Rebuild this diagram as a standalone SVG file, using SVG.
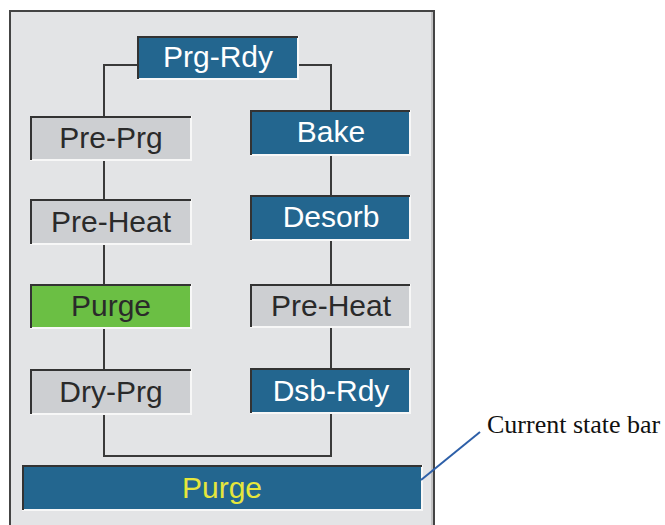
<svg xmlns="http://www.w3.org/2000/svg" width="665" height="525" viewBox="0 0 665 525">
<defs>
<style>
.lbl{font-family:"Liberation Sans",Arial,sans-serif;font-size:30px;text-anchor:middle}
.blue{fill:#23668f}
.gray{fill:#cdcfd2}
.green{fill:#6bbf44}
.hi{fill:none;stroke:#f7f7f7;stroke-width:2}
.lo{fill:none;stroke:#333;stroke-width:2}
.wt{fill:#ffffff}
.dk{fill:#2a2a2a}
.conn{fill:none;stroke:#3a3a3a;stroke-width:2}
</style>
</defs>
<rect width="665" height="525" fill="#ffffff"/>
<g id="panel">
<rect x="10" y="11" width="424" height="520" fill="#e3e4e6" stroke="#444" stroke-width="2"/>
<line x1="432" y1="12" x2="432" y2="525" stroke="#b8b8b8" stroke-width="1.5"/>
</g>
<g id="connectors">
<polyline class="conn" points="137,65 104,65 104,116"/>
<polyline class="conn" points="298,65 331,65 331,110"/>
<line class="conn" x1="104" y1="160" x2="104" y2="199"/>
<line class="conn" x1="104" y1="244" x2="104" y2="284"/>
<line class="conn" x1="104" y1="328" x2="104" y2="369"/>
<line class="conn" x1="331" y1="155" x2="331" y2="195"/>
<line class="conn" x1="331" y1="240" x2="331" y2="284"/>
<line class="conn" x1="331" y1="327" x2="331" y2="368"/>
<polyline class="conn" points="104,414 104,456 331,456 331,413"/>
</g>
<g id="prg-rdy">
<rect class="blue" x="137" y="36" width="161" height="42"/>
<polyline class="hi" points="298,36 298,79 137,79"/>
<polyline class="lo" points="138,79 138,37 298,37"/>
<text class="lbl wt" x="218" y="67">Prg-Rdy</text>
</g>
<g id="pre-prg">
<rect class="gray" x="30" y="116" width="161" height="44"/>
<polyline class="hi" points="191,116 191,160 30,160"/>
<polyline class="lo" points="31,160 31,117 191,117"/>
<text class="lbl dk" x="111" y="148">Pre-Prg</text>
</g>
<g id="bake">
<rect class="blue" x="250" y="110" width="160" height="44"/>
<polyline class="hi" points="410,110 410,155 250,155"/>
<polyline class="lo" points="251,155 251,111 410,111"/>
<text class="lbl wt" x="331" y="142">Bake</text>
</g>
<g id="pre-heat-left">
<rect class="gray" x="30" y="199" width="161" height="45"/>
<polyline class="hi" points="191,199 191,244 30,244"/>
<polyline class="lo" points="31,244 31,200 191,200"/>
<text class="lbl dk" x="111" y="232">Pre-Heat</text>
</g>
<g id="desorb">
<rect class="blue" x="250" y="195" width="160" height="45"/>
<polyline class="hi" points="410,195 410,240 250,240"/>
<polyline class="lo" points="251,240 251,196 410,196"/>
<text class="lbl wt" x="331" y="227">Desorb</text>
</g>
<g id="purge">
<rect class="green" x="30" y="284" width="161" height="44"/>
<polyline class="hi" points="191,284 191,328 30,328"/>
<polyline class="lo" points="31,328 31,285 191,285"/>
<text class="lbl dk" x="111" y="316">Purge</text>
</g>
<g id="pre-heat-right">
<rect class="gray" x="250" y="284" width="160" height="43"/>
<polyline class="hi" points="410,284 410,327 250,327"/>
<polyline class="lo" points="251,327 251,285 410,285"/>
<text class="lbl dk" x="331" y="316">Pre-Heat</text>
</g>
<g id="dry-prg">
<rect class="gray" x="30" y="369" width="161" height="45"/>
<polyline class="hi" points="191,369 191,414 30,414"/>
<polyline class="lo" points="31,414 31,370 191,370"/>
<text class="lbl dk" x="111" y="402">Dry-Prg</text>
</g>
<g id="dsb-rdy">
<rect class="blue" x="250" y="368" width="160" height="45"/>
<polyline class="hi" points="410,368 410,413 250,413"/>
<polyline class="lo" points="251,413 251,369 410,369"/>
<text class="lbl wt" x="331" y="401">Dsb-Rdy</text>
</g>
<g id="current-state-bar">
<rect class="blue" x="22" y="465" width="400" height="45"/>
<polyline class="hi" points="422,465 422,510 22,510"/>
<polyline class="lo" points="23,510 23,466 422,466"/>
<text class="lbl" x="222" y="498" fill="#e6e63c">Purge</text>
</g>
<g id="callout">
<line x1="421" y1="480" x2="480" y2="432" stroke="#2d5fa8" stroke-width="2"/>
<text x="487" y="433" font-family="'Liberation Serif','Times New Roman',serif" font-size="26" fill="#111">Current state bar</text>
</g>
</svg>
